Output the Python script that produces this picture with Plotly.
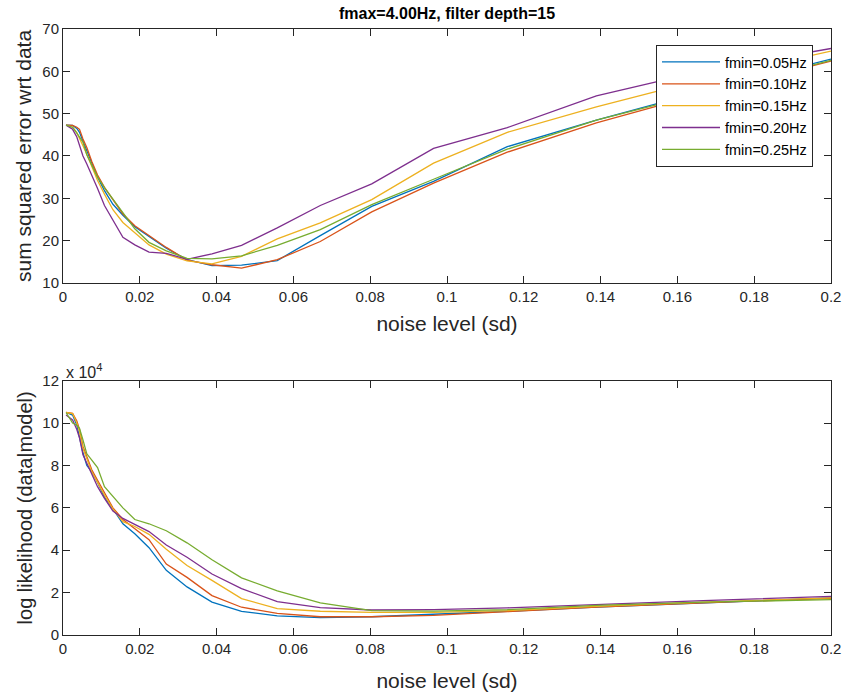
import plotly.graph_objects as go
from plotly.subplots import make_subplots

# noise levels (sd)
noise = [0.0008, 0.0025, 0.0036, 0.0043, 0.0052, 0.0062, 0.0075, 0.0090, 0.0108, 0.0130,
         0.0156, 0.0187, 0.0224, 0.0269, 0.0323, 0.0388, 0.0465, 0.0558, 0.0670, 0.0804,
         0.0965, 0.1157, 0.1389, 0.1667, 0.2000]

series_names = ["fmin=0.05Hz", "fmin=0.10Hz", "fmin=0.15Hz", "fmin=0.20Hz", "fmin=0.25Hz"]

# sum squared error wrt data
sse_005 = [47.3, 47.2, 46.5, 45.6, 43.5, 41.3, 38.3, 35.0, 31.8, 28.6, 26.0, 23.3, 21.0, 18.2,
           15.5, 14.1, 14.2, 15.3, 21.2, 28.1, 34.0, 42.2, 48.5, 55.3, 62.9]
sse_010 = [47.3, 47.2, 46.8, 46.3, 44.0, 42.0, 38.7, 35.5, 32.6, 29.6, 26.3, 23.5, 21.2, 18.4,
           15.4, 14.3, 13.5, 15.5, 19.8, 26.8, 33.6, 40.9, 47.8, 54.8, 62.4]
sse_015 = [47.3, 46.8, 45.5, 44.0, 42.4, 40.4, 37.3, 34.2, 31.0, 27.3, 24.3, 21.8, 19.0, 16.8,
           15.2, 14.5, 16.3, 20.4, 24.2, 29.7, 38.3, 45.6, 51.6, 58.1, 64.8]
sse_020 = [47.3, 46.3, 44.5, 42.5, 40.0, 38.1, 35.6, 32.3, 28.3, 24.8, 20.8, 19.0, 17.3, 17.0,
           15.6, 16.9, 18.9, 23.0, 28.3, 33.4, 41.8, 46.7, 54.2, 60.1, 65.4]
sse_025 = [47.3, 46.8, 45.4, 44.4, 43.3, 40.3, 37.8, 35.0, 32.5, 29.8, 26.8, 22.8, 19.6, 17.6,
           15.8, 15.7, 16.4, 18.9, 22.6, 28.5, 34.5, 41.6, 48.5, 54.9, 62.6]

# log likelihood (data|model)
ll_005 = [105000, 103800, 99000, 93000, 86000, 80000, 77000, 72000, 65000, 59500, 52500, 47800,
          41200, 30500, 22700, 15500, 11200, 9000, 8200, 8600, 9700, 11200, 13200, 15200, 17500]
ll_010 = [105000, 104600, 101000, 97000, 89000, 84000, 78000, 73000, 67000, 60000, 54500, 50000,
          45000, 33500, 27200, 18600, 13100, 10200, 8600, 8600, 9300, 11000, 13200, 15200, 17300]
ll_015 = [105000, 104500, 100000, 96000, 88000, 83000, 77000, 72000, 66000, 59500, 53500, 51200,
          47500, 40500, 32800, 25800, 17200, 12400, 11200, 10700, 10700, 11500, 13500, 15500, 17500]
ll_020 = [103800, 101500, 97000, 93000, 85000, 81000, 76000, 70000, 64500, 58500, 55000, 52000,
          48800, 42500, 36700, 28800, 21900, 15700, 12900, 11800, 12000, 12800, 14500, 16200, 18200]
ll_025 = [105000, 100000, 99000, 97500, 92000, 85500, 82500, 79000, 70000, 65500, 60000, 54500,
          52500, 49200, 43500, 35500, 27000, 20800, 15200, 11500, 11300, 12000, 14000, 15500, 16700]

colors = ["#0072BD", "#D95319", "#EDB120", "#7E2F8E", "#77AC30"]

x_tickvals = [0, 0.02, 0.04, 0.06, 0.08, 0.1, 0.12, 0.14, 0.16, 0.18, 0.2]
x_ticktext = ["0", "0.02", "0.04", "0.06", "0.08", "0.1", "0.12", "0.14", "0.16", "0.18", "0.2"]
top_ytickvals = [10, 20, 30, 40, 50, 60, 70]
bot_ytickvals = [0, 20000, 40000, 60000, 80000, 100000, 120000]
bot_yticktext = ["0", "2", "4", "6", "8", "10", "12"]

FONT = "Liberation Sans, Arial, Helvetica, sans-serif"
AXC = "#262626"

fig = make_subplots(rows=2, cols=1)

sse_all = [sse_005, sse_010, sse_015, sse_020, sse_025]
ll_all = [ll_005, ll_010, ll_015, ll_020, ll_025]
for i in range(5):
    fig.add_trace(go.Scatter(x=noise, y=sse_all[i], mode="lines", name=series_names[i],
                             line=dict(color=colors[i], width=1.3), showlegend=True),
                  row=1, col=1)
for i in range(5):
    fig.add_trace(go.Scatter(x=noise, y=ll_all[i], mode="lines", name=series_names[i],
                             line=dict(color=colors[i], width=1.3), showlegend=False),
                  row=2, col=1)

axis_common = dict(showline=True, linecolor=AXC, linewidth=1, mirror="ticks",
                   ticks="inside", ticklen=7, tickcolor=AXC, tickwidth=1,
                   showgrid=False, zeroline=False, automargin=False,
                   tickfont=dict(family=FONT, size=15, color=AXC))

TITLE_FONT = dict(family=FONT, size=21, color=AXC)

top_dom = [0.5809, 1.0]
bot_dom = [0.0, 0.4196]

fig.update_layout(
    width=846, height=694,
    margin=dict(l=63, r=15, t=29, b=59),
    paper_bgcolor="white", plot_bgcolor="white",
    font=dict(family=FONT, color=AXC),
    title=dict(text="<b>fmax=4.00Hz, filter depth=15</b>", x=(63 + 384) / 846, xanchor="center",
               y=1 - 13 / 694, yanchor="middle",
               font=dict(family=FONT, size=16, color="black")),
    legend=dict(x=(813 - 63) / 768, xanchor="right", y=(635 - 45) / 606, yanchor="top",
                bgcolor="white", bordercolor=AXC, borderwidth=1,
                font=dict(family=FONT, size=14.5, color="black"),
                itemwidth=58, tracegroupgap=0),
    xaxis=dict(domain=[0, 1], range=[0, 0.2], tickvals=x_tickvals, ticktext=x_ticktext,
               title=dict(text="noise level (sd)", font=TITLE_FONT, standoff=12),
               **axis_common),
    yaxis=dict(domain=top_dom, range=[10, 70], tickvals=top_ytickvals,
               title=dict(text="sum squared error wrt data", font=TITLE_FONT, standoff=4),
               **axis_common),
    xaxis2=dict(domain=[0, 1], range=[0, 0.2], tickvals=x_tickvals, ticktext=x_ticktext,
                title=dict(text="noise level (sd)", font=TITLE_FONT, standoff=17),
                **axis_common),
    yaxis2=dict(domain=bot_dom, range=[0, 120000], tickvals=bot_ytickvals, ticktext=bot_yticktext,
                title=dict(text="log likelihood (data|model)", font=dict(family=FONT, size=20, color=AXC),
                           standoff=4),
                **axis_common),
)

fig.add_annotation(text="x 10<sup>4</sup>", xref="paper", yref="paper", x=0, y=bot_dom[1],
                   xanchor="left", yanchor="bottom", showarrow=False, xshift=1, yshift=-2,
                   font=dict(family=FONT, size=16, color=AXC))

fig.write_html("out.html")
